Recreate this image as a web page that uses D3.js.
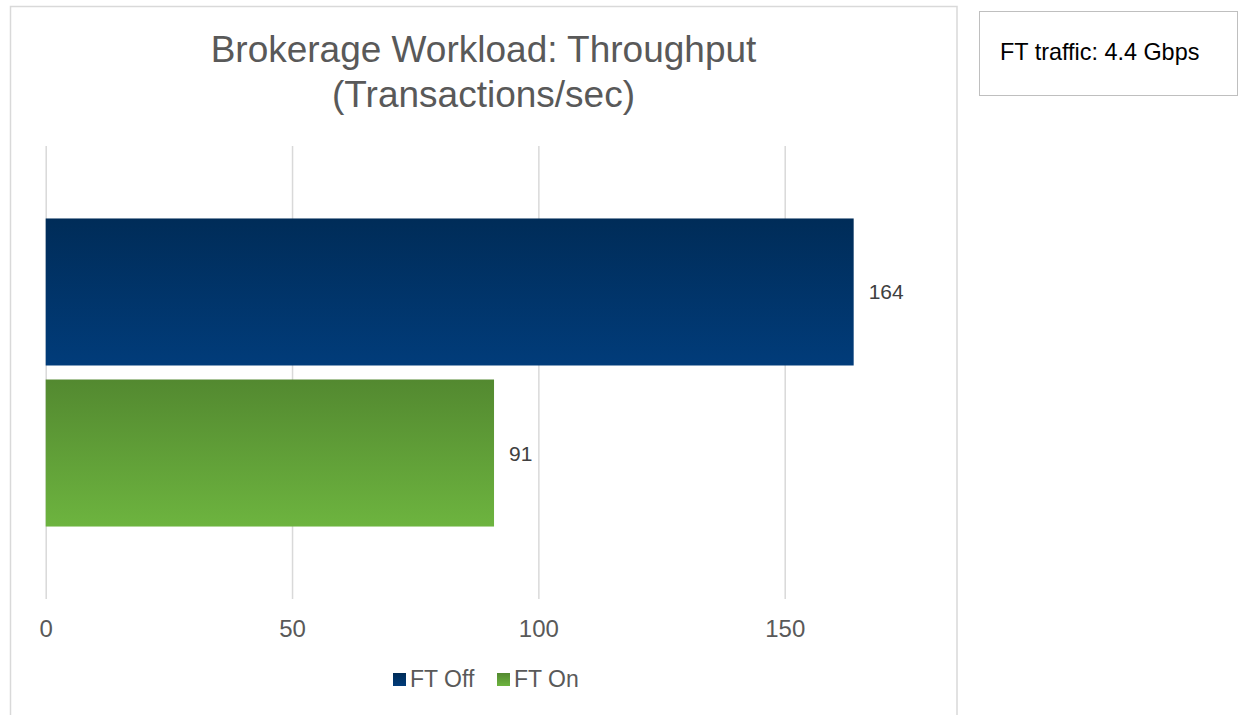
<!DOCTYPE html>
<html>
<head>
<meta charset="utf-8">
<script src="https://cdn.jsdelivr.net/npm/d3@7"></script>
<style>
  body { margin: 0; background: #fff; }
  text { font-family: "Liberation Sans", Arial, sans-serif; }
</style>
</head>
<body>
<div id="chart"></div>
<script>
const series = ['FT Off', 'FT On'];
const values = [164, 91];
const ticks = [0, 50, 100, 150];
const titleLines = ['Brokerage Workload: Throughput', '(Transactions/sec)'];
const noteText = 'FT traffic: 4.4 Gbps';

const w = 1245;
const h = 715;

const svg = d3.select('#chart')
              .append('svg')
              .attr('width', w)
              .attr('height', h);

const defs = svg.append('defs');
const gradients = [['grad-off', '#002c58', '#013c7a'], ['grad-on', '#538930', '#6db43f']];
gradients.forEach(g => {
  const lg = defs.append('linearGradient')
                 .attr('id', g[0])
                 .attr('x1', 0).attr('y1', 0)
                 .attr('x2', 0).attr('y2', 1);
  lg.append('stop').attr('offset', '0%').attr('stop-color', g[1]);
  lg.append('stop').attr('offset', '100%').attr('stop-color', g[2]);
});

// chart border
svg.append('rect')
   .attr('x', 10.5)
   .attr('y', 6.5)
   .attr('width', 946.5)
   .attr('height', 720)
   .attr('fill', '#fff')
   .attr('stroke', '#d9d9d9')
   .attr('stroke-width', 1.5);

// note box
svg.append('rect')
   .attr('x', 979.5)
   .attr('y', 11.5)
   .attr('width', 258)
   .attr('height', 84)
   .attr('fill', '#fff')
   .attr('stroke', '#bfbfbf')
   .attr('stroke-width', 1);

svg.append('text')
   .text(noteText)
   .attr('x', 1000)
   .attr('y', 60)
   .attr('font-size', 23.4)
   .attr('fill', '#000');

svg.selectAll('.title')
   .data(titleLines)
   .enter()
   .append('text')
   .attr('class', 'title')
   .text(d => d)
   .attr('x', 483.5)
   .attr('y', (d, i) => 62 + i * 45)
   .attr('text-anchor', 'middle')
   .attr('font-size', 37)
   .attr('fill', '#595959');

const xScale = d3.scaleLinear()
                 .domain([0, 180])
                 .range([45.7, 932.5]);
const yScale = d3.scaleBand()
                 .domain(series)
                 .range([146, 599])
                 .paddingInner(0.087)
                 .paddingOuter(0.45);

const xAxis = d3.axisBottom(xScale)
                .tickValues(ticks)
                .tickSize(-(599 - 146))
                .tickPadding(0)
                .tickFormat(d3.format('d'));

const gx = svg.append('g')
              .attr('id', 'x-axis')
              .attr('transform', 'translate(0, 599)')
              .call(xAxis);
gx.select('.domain').remove();
gx.selectAll('line')
  .attr('stroke', '#d9d9d9')
  .attr('stroke-width', 1.5);
gx.selectAll('text')
  .attr('dy', 0)
  .attr('y', 38)
  .attr('font-size', 24)
  .attr('font-family', '"Liberation Sans", Arial, sans-serif')
  .attr('fill', '#595959');

svg.selectAll('.bar')
   .data(values)
   .enter()
   .append('rect')
   .attr('class', 'bar')
   .attr('x', xScale(0))
   .attr('y', (d, i) => yScale(series[i]))
   .attr('width', d => xScale(d) - xScale(0))
   .attr('height', yScale.bandwidth())
   .attr('fill', (d, i) => 'url(#' + gradients[i][0] + ')');

svg.selectAll('.label')
   .data(values)
   .enter()
   .append('text')
   .attr('class', 'label')
   .text(d => d)
   .attr('x', d => xScale(d) + 15)
   .attr('y', (d, i) => yScale(series[i]) + yScale.bandwidth() / 2 + 7.5)
   .attr('font-size', 21)
   .attr('fill', '#404040');

// legend
const legendX = [393, 497];
const legend = svg.selectAll('.legend')
                  .data(series)
                  .enter()
                  .append('g')
                  .attr('class', 'legend')
                  .attr('transform', (d, i) => 'translate(' + legendX[i] + ', 673)');
legend.append('rect')
      .attr('width', 13)
      .attr('height', 13)
      .attr('fill', (d, i) => 'url(#' + gradients[i][0] + ')');
legend.append('text')
      .text(d => d)
      .attr('x', 17)
      .attr('y', 14)
      .attr('font-size', 23)
      .attr('fill', '#595959');
</script>
</body>
</html>
